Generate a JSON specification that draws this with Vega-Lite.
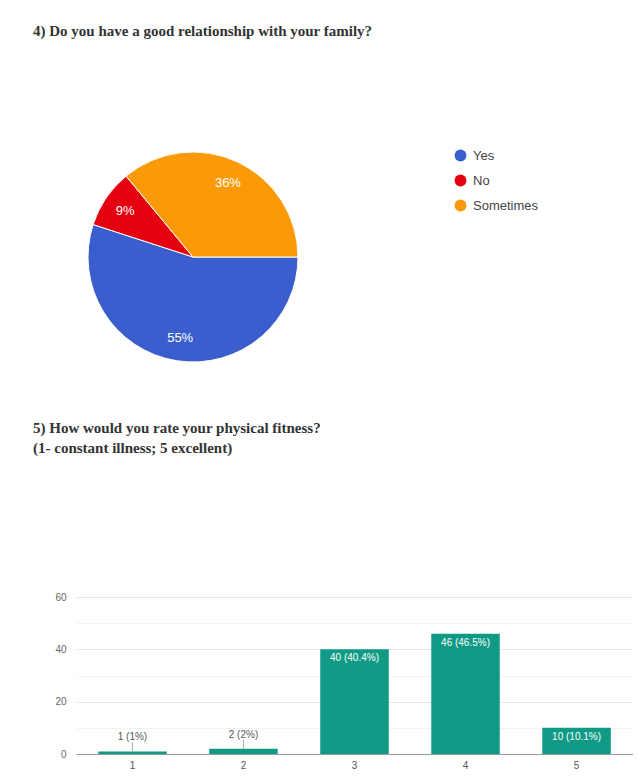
{
  "$schema": "https://vega.github.io/schema/vega-lite/v6.json",
  "padding": {"left": 33, "top": 24, "right": 0, "bottom": 0},
  "background": "white",
  "bounds": "flush",
  "spacing": 225,
  "config": {
    "view": {"stroke": null},
    "font": "Liberation Sans"
  },
  "datasets": {
    "family": [
      {"answer": "Yes", "pct": 55, "label": "55%", "order": 1},
      {"answer": "No", "pct": 9, "label": "9%", "order": 2},
      {"answer": "Sometimes", "pct": 36, "label": "36%", "order": 3}
    ],
    "fitness": [
      {"rating": "1", "count": 1, "label": "1 (1%)"},
      {"rating": "2", "count": 2, "label": "2 (2%)"},
      {"rating": "3", "count": 40, "label": "40 (40.4%)"},
      {"rating": "4", "count": 46, "label": "46 (46.5%)"},
      {"rating": "5", "count": 10, "label": "10 (10.1%)"}
    ]
  },
  "vconcat": [
    {
      "title": {
        "text": "4) Do you have a good relationship with your family?",
        "anchor": "start",
        "frame": "group",
        "dx": -43,
        "font": "Liberation Serif",
        "fontSize": 15,
        "fontWeight": "bold",
        "color": "#333333",
        "offset": 103
      },
      "width": 234,
      "height": 230,
      "data": {"name": "family"},
      "encoding": {
        "theta": {"field": "pct", "type": "quantitative", "stack": true, "scale": {"range": [1.5708, 7.854]}},
        "order": {"field": "order", "type": "quantitative"}
      },
      "layer": [
        {
          "mark": {"type": "arc", "outerRadius": 105, "stroke": "white", "strokeWidth": 1},
          "encoding": {
            "color": {
              "field": "answer",
              "type": "nominal",
              "scale": {"domain": ["Yes", "No", "Sometimes"], "range": ["#3b5ecf", "#e5000f", "#fb9a08"]},
              "legend": {
                "orient": "none",
                "legendX": 378,
                "legendY": 7,
                "title": null,
                "symbolType": "circle",
                "symbolSize": 140,
                "symbolStrokeWidth": 0,
                "labelFontSize": 13,
                "labelColor": "#444444",
                "labelOffset": 6,
                "rowPadding": 11
              }
            }
          }
        },
        {
          "mark": {"type": "text", "radius": 82, "fontSize": 13},
          "encoding": {
            "text": {"field": "label", "type": "nominal"},
            "color": {"value": "white"}
          }
        }
      ]
    },
    {
      "title": {
        "text": ["5) How would you rate your physical fitness?", "(1- constant illness; 5 excellent)"],
        "anchor": "start",
        "frame": "group",
        "dx": -43,
        "font": "Liberation Serif",
        "fontSize": 15,
        "fontWeight": "bold",
        "color": "#333333",
        "lineHeight": 20,
        "offset": 136
      },
      "width": 557,
      "height": 157,
      "data": {"name": "fitness"},
      "encoding": {
        "x": {
          "field": "rating",
          "type": "ordinal",
          "scale": {"paddingInner": 0.383, "paddingOuter": 0.2},
          "axis": {
            "title": null,
            "labelAngle": 0,
            "ticks": false,
            "domainColor": "#999999",
            "labelPadding": 6,
            "labelFontSize": 10,
            "labelColor": "#555555",
            "grid": false
          }
        },
        "y": {
          "field": "count",
          "type": "quantitative",
          "scale": {"domain": [0, 60], "nice": false},
          "axis": {
            "title": null,
            "values": [0, 10, 20, 30, 40, 50, 60],
            "labelExpr": "datum.value % 20 == 0 ? datum.label : ''",
            "domain": false,
            "ticks": false,
            "labelPadding": 10,
            "labelFontSize": 10,
            "labelColor": "#666666",
            "gridColor": {"condition": {"test": "datum.value % 20 == 0", "value": "#e6e6e6"}, "value": "#f3f3f3"}
          }
        }
      },
      "layer": [
        {"mark": {"type": "bar", "color": "#0f9a85"}},
        {
          "transform": [{"filter": "datum.count >= 5"}],
          "mark": {"type": "text", "baseline": "middle", "dy": 9, "color": "white", "fontSize": 10},
          "encoding": {"text": {"field": "label", "type": "nominal"}}
        },
        {
          "transform": [{"filter": "datum.count < 5"}],
          "mark": {"type": "text", "baseline": "middle", "dy": -14, "color": "#555555", "fontSize": 10},
          "encoding": {"text": {"field": "label", "type": "nominal"}}
        },
        {
          "transform": [{"filter": "datum.count < 5"}],
          "mark": {"type": "rule", "color": "#aaaaaa", "y2Offset": -9},
          "encoding": {"y2": {"field": "count"}}
        }
      ]
    }
  ]
}
